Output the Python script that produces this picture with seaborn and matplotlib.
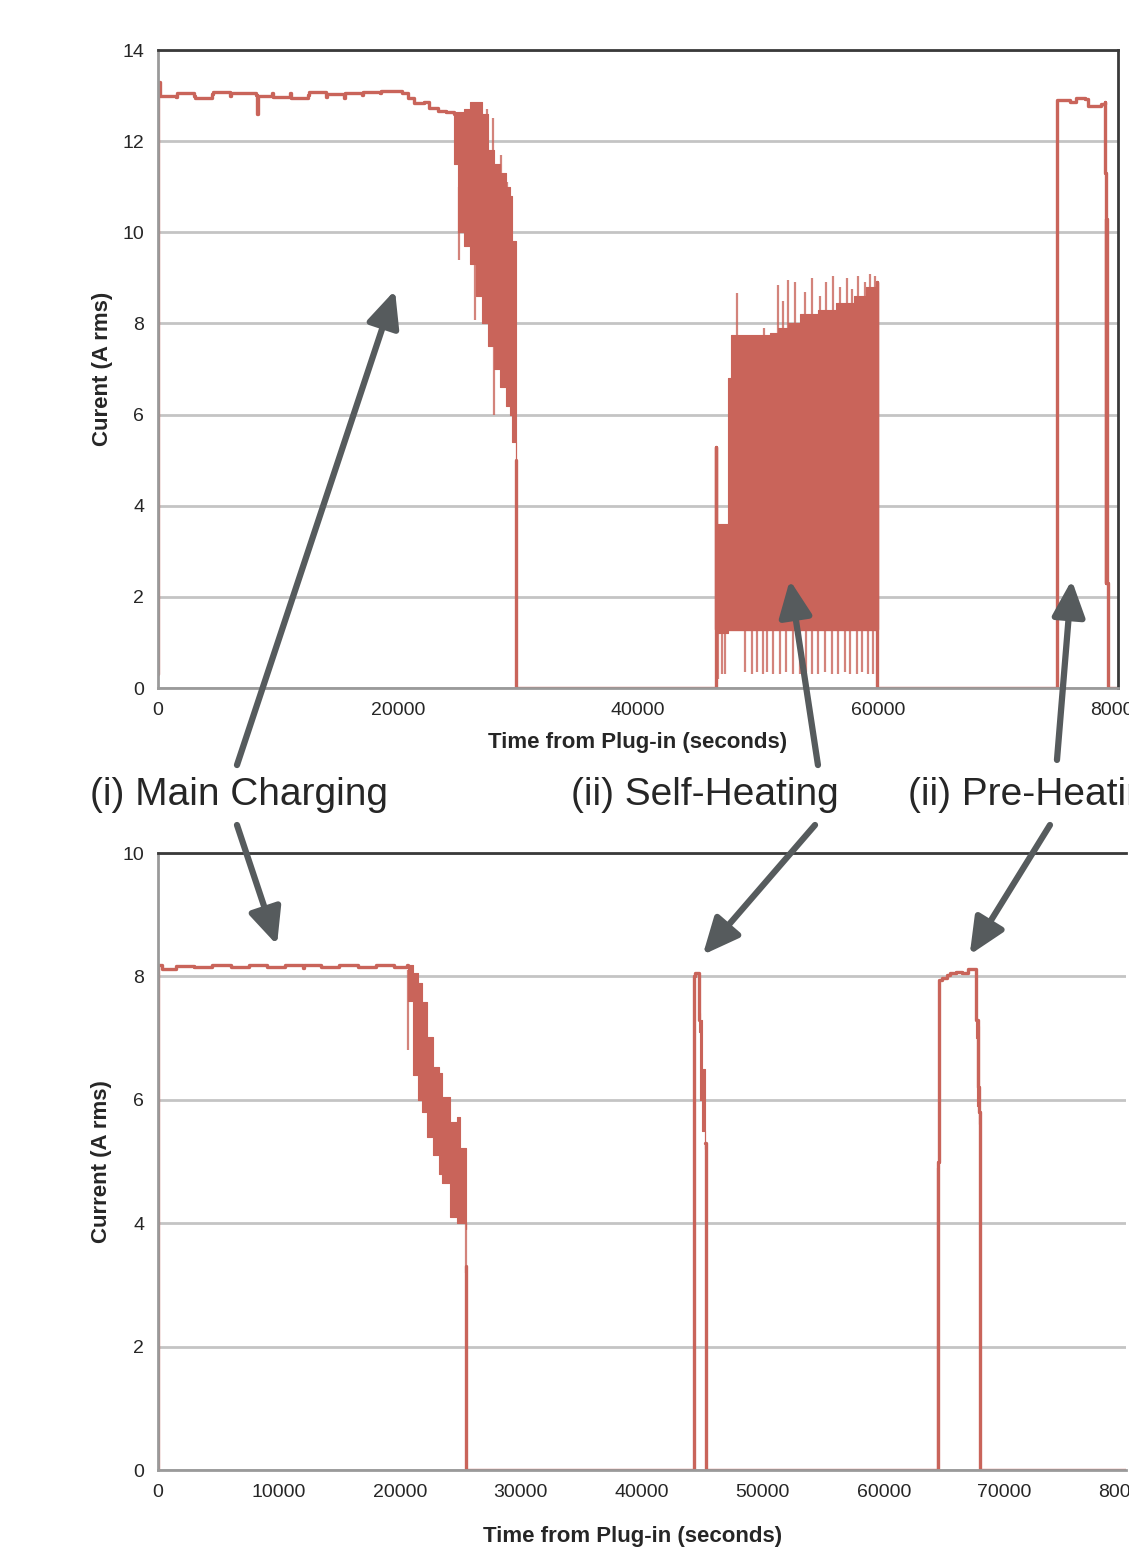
import matplotlib
matplotlib.use("Agg")
import matplotlib.pyplot as plt
import seaborn as sns

# ---------------- top panel: current trace (A rms) vs time (s) ----------------
top_time = [0, 0, 150, 1500, 1600, 3000, 3100, 4500, 4600, 6000,
            6100, 8200, 8250, 8300, 9500, 9600, 11000, 11100, 12500, 12600,
            14000, 14100, 15500, 15600, 17000, 17100, 18500, 18600, 20300, 20800,
            21300, 22200, 22600, 23300, 24000, 24700,
            29800, 29800, 46500, 46500, 46550, 59900, 59950, 74900, 74950, 76000,
            76500, 77300, 77500, 78600, 78900, 78950, 79000, 79050, 79100, 79150,
            80000]
top_amps = [0.3, 13.3, 13.0, 12.97, 13.06, 13.0, 12.94, 13.03, 13.08, 13.0,
            13.05, 13.02, 12.6, 13.0, 13.06, 12.98, 13.05, 12.95, 13.02, 13.08,
            12.97, 13.03, 12.95, 13.06, 13.02, 13.08, 13.05, 13.1, 13.05, 12.95,
            12.83, 12.85, 12.72, 12.67, 12.65, 12.6,
            5.0, 0, 0, 5.3, 1.3, 8.9, 0, 0, 12.9, 12.85,
            12.95, 12.92, 12.78, 12.82, 12.85, 11.3, 2.3, 10.3, 2.3, 0,
            0]
# trace pieces (the gaps are covered by the dense bands below)
top_piece = [0] * 36 + [1] * 21

# dense oscillation at end of main charge (envelope)
top_fade_time = [24700, 25000, 25500, 26000, 26500, 27000, 27500, 28000, 28500, 29000, 29300, 29500, 29800]
top_fade_hi = [12.65, 12.65, 12.7, 12.85, 12.85, 12.6, 11.8, 11.5, 11.3, 11.0, 10.8, 9.8, 9.5]
top_fade_lo = [11.5, 10.0, 9.7, 9.3, 8.6, 8.0, 7.5, 7.0, 6.6, 6.2, 6.0, 5.4, 4.8]

# dense oscillation during self-heating (envelope)
top_heat_time = [46550, 47400, 47500, 47800, 48300, 50000, 51000, 51700, 52500, 53500, 55000, 56500, 58000, 59000, 59900]
top_heat_hi = [3.6, 3.6, 6.8, 7.75, 7.75, 7.75, 7.8, 7.9, 8.0, 8.2, 8.3, 8.45, 8.6, 8.8, 8.9]
top_heat_lo = [1.2, 1.2, 1.3, 1.3, 1.3, 1.3, 1.3, 1.3, 1.3, 1.3, 1.3, 1.3, 1.3, 1.3, 1.3]

# isolated spikes (time, low, high)
top_spike_time = [25100, 26400, 27400, 27900, 28000, 28600, 29100,
                  48250, 50500, 51700, 52100, 52500, 53080, 53900, 54500, 55170, 55670,
                  56250, 56830, 57420, 57830, 58330, 58920, 59330, 59750,
                  46700, 47000, 47300, 48900, 49500, 49900, 50400, 50800, 51250, 51830,
                  52330, 52900, 53500, 54000, 54500, 55000, 55580, 56170, 56670, 57250,
                  57670, 58250, 58670, 59170, 59580]
top_spike_lo = [9.4, 8.07, 11.0, 10.5, 6.0, 10.0, 9.5,
                7.0, 7.0, 7.5, 7.5, 7.8, 7.8, 8.0, 8.0, 8.0, 8.0,
                8.2, 8.2, 8.3, 8.3, 8.4, 8.5, 8.6, 8.6,
                0.2, 0.3, 0.3, 0.35, 0.3, 0.35, 0.3, 0.35, 0.3, 0.3,
                0.35, 0.3, 0.3, 0.35, 0.3, 0.3, 0.35, 0.3, 0.3, 0.35,
                0.3, 0.3, 0.35, 0.3, 0.3]
top_spike_hi = [11.0, 9.5, 12.7, 12.5, 7.5, 11.7, 11.1,
                8.67, 7.9, 8.84, 8.5, 8.95, 8.9, 8.7, 9.0, 8.6, 8.9,
                9.05, 8.8, 9.0, 8.75, 9.05, 8.9, 9.08, 9.05,
                1.5, 1.5, 1.5, 1.5, 1.5, 1.5, 1.5, 1.5, 1.5, 1.5,
                1.5, 1.5, 1.5, 1.5, 1.5, 1.5, 1.5, 1.5, 1.5, 1.5,
                1.5, 1.5, 1.5, 1.5, 1.5]

# ---------------- bottom panel ----------------
bot_time = [0, 0, 300, 1500, 3000, 4500, 6000, 7500, 9000, 10500,
            12000, 12100, 13500, 15000, 16500, 18000, 19500, 20600, 20660,
            25450, 25450, 44300, 44300, 44400, 44700, 44750,
            45250, 45300, 64500, 64500, 64530, 64800, 65200, 65500, 66000, 66500,
            67000, 67600, 67650, 67800, 67900, 67950, 80000]
bot_amps = [0, 8.18, 8.12, 8.17, 8.15, 8.18, 8.15, 8.18, 8.16, 8.18,
            8.14, 8.18, 8.16, 8.18, 8.15, 8.18, 8.16, 8.18, 8.18,
            3.3, 0, 0, 8.0, 8.05, 8.02, 7.3,
            5.3, 0, 0, 5.0, 7.95, 7.98, 8.02, 8.05, 8.07, 8.05,
            8.12, 8.12, 7.3, 6.2, 5.8, 0, 0]
bot_piece = [0] * 19 + [1] * 7 + [2] * 17

bot_fade_time = [20660, 21074, 21488, 21818, 22231, 22727, 23223, 23471, 24132, 24711, 24959, 25450]
bot_fade_hi = [8.18, 8.05, 7.9, 7.58, 7.02, 6.53, 6.43, 6.05, 5.64, 5.72, 5.22, 5.22]
bot_fade_lo = [7.6, 6.4, 6.0, 5.8, 5.4, 5.1, 4.8, 4.65, 4.1, 4.0, 4.0, 3.9]

bot_tail_time = [44750, 44850, 45000, 45250, 67650, 67750, 67900]
bot_tail_hi = [7.4, 7.3, 6.5, 5.8, 7.3, 7.2, 6.1]
bot_tail_lo = [7.1, 6.0, 5.5, 5.2, 7.0, 5.9, 5.6]

bot_spike_time = [20700, 25450, 64460]
bot_spike_lo = [6.8, 3.2, 0.0]
bot_spike_hi = [8.1, 4.0, 4.9]

labels = ["(i) Main Charging", "(ii) Self-Heating", "(ii) Pre-Heating"]
top_targets_t = [19750, 52667, 76167]
top_targets_a = [8.73, 2.37, 2.37]
bot_targets_t = [9834, 45040, 67107]
bot_targets_a = [8.51, 8.35, 8.35]

RED = "#c9645a"
ARROW = "#565b5d"

sns.set_style("white")
plt.rcParams["font.family"] = ["Liberation Sans", "DejaVu Sans"]

fig = plt.figure(figsize=(11.29, 15.49), dpi=100)
ax1 = fig.add_axes([0.140, 0.5558, 0.850, 0.4119])
ax2 = fig.add_axes([0.140, 0.0510, 0.857, 0.3983])


def style_axis(ax, ymax, xticks, ylabel, right_spine):
    ax.set_xlim(0, 80000)
    ax.set_ylim(0, ymax)
    ax.set_yticks(range(0, ymax + 1, 2))
    ax.set_xticks(xticks)
    ax.set_axisbelow(True)
    ax.yaxis.grid(True, color="#c4c4c4", lw=2)
    ax.xaxis.grid(False)
    for side in ["left", "bottom"]:
        ax.spines[side].set_color("#9a9a9a")
        ax.spines[side].set_linewidth(2)
    ax.spines["top"].set_color("#3a3a3a")
    ax.spines["top"].set_linewidth(2)
    ax.spines["right"].set_visible(right_spine)
    ax.spines["right"].set_color("#3a3a3a")
    ax.spines["right"].set_linewidth(2)
    ax.tick_params(axis="both", direction="out", length=5, width=1.5,
                   color="#9a9a9a", labelsize=14, pad=5)
    ax.set_ylabel(ylabel, fontsize=16, fontweight="bold", va="center")
    ax.set_xlabel("Time from Plug-in (seconds)", fontsize=16,
                  fontweight="bold", va="center")


def draw_trace(ax, t, a, piece, bands, spikes):
    sns.lineplot(x=t, y=a, units=piece, sort=False, estimator=None, ax=ax,
                 color=RED, lw=2.4, drawstyle="steps-post")
    for bt, lo, hi in bands:
        ax.fill_between(bt, lo, hi, color=RED, lw=0.8, edgecolor=RED, step="post")
    st, slo, shi = spikes
    ax.vlines(st, slo, shi, color=RED, lw=1.6, alpha=0.8)


draw_trace(ax1, top_time, top_amps, top_piece,
           [(top_fade_time, top_fade_lo, top_fade_hi),
            (top_heat_time, top_heat_lo, top_heat_hi)],
           (top_spike_time, top_spike_lo, top_spike_hi))
draw_trace(ax2, bot_time, bot_amps, bot_piece,
           [(bot_fade_time, bot_fade_lo, bot_fade_hi),
            (bot_tail_time[:4], bot_tail_lo[:4], bot_tail_hi[:4]),
            (bot_tail_time[4:], bot_tail_lo[4:], bot_tail_hi[4:])],
           (bot_spike_time, bot_spike_lo, bot_spike_hi))

style_axis(ax1, 14, [0, 20000, 40000, 60000, 80000], "Curent (A rms)", True)
style_axis(ax2, 10, list(range(0, 80001, 10000)), "Current (A rms)", False)
ax1.yaxis.set_label_coords(-0.058, 0.5)
ax1.xaxis.set_label_coords(0.5, -0.086)
ax2.yaxis.set_label_coords(-0.058, 0.5)
ax2.xaxis.set_label_coords(0.49, -0.108)

# phase labels between the panels
fig.text(0.2121, 0.4868, labels[0], fontsize=28, ha="center", va="center")
fig.text(0.6244, 0.4868, labels[1], fontsize=28, ha="center", va="center")
fig.text(0.8043, 0.4868, labels[2], fontsize=28, ha="left", va="center")

arrow_kw = dict(arrowstyle="-|>,head_length=1.1,head_width=0.5",
                color=ARROW, lw=4.5, mutation_scale=20, shrinkA=0, shrinkB=0)
top_tails = [(0.2099, 0.5061), (0.7245, 0.5061), (0.9362, 0.5094)]
bot_tails = [(0.2099, 0.4674), (0.7219, 0.4674), (0.9300, 0.4674)]
for i in range(3):
    ax1.annotate("", xy=(top_targets_t[i], top_targets_a[i]), xycoords="data",
                 xytext=top_tails[i], textcoords="figure fraction",
                 arrowprops=arrow_kw, annotation_clip=False)
    ax2.annotate("", xy=(bot_targets_t[i], bot_targets_a[i]), xycoords="data",
                 xytext=bot_tails[i], textcoords="figure fraction",
                 arrowprops=arrow_kw, annotation_clip=False)

plt.savefig("out.png", dpi=100)
